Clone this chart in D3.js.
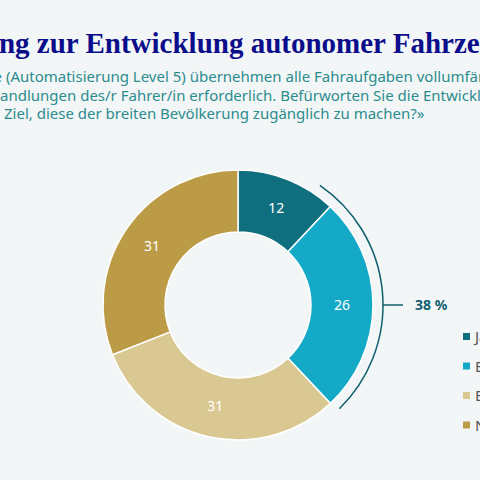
<!DOCTYPE html>
<html><head><meta charset="utf-8">
<script src="https://cdn.jsdelivr.net/npm/d3@7"></script>
<style>body{margin:0;background:#f3f6f7}svg{display:block}</style>
</head><body><svg id="c" width="480" height="480"></svg>
<script>
const categories = ["Ja", "Eher ja", "Eher nein", "Nein"];
const values = [12, 26, 31, 31];
const colors = ["#0f6f7f", "#14aac7", "#d9c892", "#bc9b47"];
const bracketLabel = "38 %";
const titleText = "Einstellung zur Entwicklung autonomer Fahrzeuge";
const subtitleLines = [
  ["«Autonome Fahrzeuge (Automatisierung Level 5) übernehmen alle Fahraufgaben vollumfänglich.", 19],
  ["Keine Handlungen des/r Fahrer/in erforderlich. Befürworten Sie die Entwicklung", 7],
  ["mit dem Ziel, diese der breiten Bevölkerung zugänglich zu machen?»", 8]
];
const svg = d3.select("#c");
svg.append("rect").attr("width",480).attr("height",480).attr("fill","#f3f6f7");
function placed(txt, start, x0, y, attrs){
  const t = svg.append("text").attr("y",y).text(txt);
  for (const k in attrs) t.attr(k, attrs[k]);
  const off = start>0 ? t.node().getSubStringLength(0,start) : 0;
  t.attr("x", x0-off);
}
placed(titleText, 9, -1, 53, {"font-family":"'Liberation Serif',serif","font-weight":"bold","font-size":"29px","fill":"#0b0d8a"});
const ys=[82,101,119], xs=[2,0,4];
subtitleLines.forEach((l,i)=>placed(l[0], l[1], xs[i], ys[i], {"font-family":"'Noto Sans',sans-serif","font-size":"15px","fill":"#2b8c8e"}));

const cx=238, cy=305, R=135, r=73;
const g = svg.append("g").attr("transform",`translate(${cx},${cy})`);
const pie = d3.pie().sort(null).value(d=>d)(values);
const arc = d3.arc().innerRadius(r).outerRadius(R);
g.selectAll("path.s").data(pie).join("path").attr("class","s").attr("d",arc)
  .attr("fill",(d,i)=>colors[i]).attr("stroke","#ffffff").attr("stroke-width",1.5);
const lab = d3.arc().innerRadius((r+R)/2).outerRadius((r+R)/2);
g.selectAll("text.v").data(pie).join("text").attr("class","v")
  .attr("transform",d=>`translate(${lab.centroid(d)})`).attr("text-anchor","middle").attr("dy","0.35em")
  .attr("font-family","'Noto Sans',sans-serif").attr("font-size","14px").attr("fill","#fff").text(d=>d.data);
const end = pie[1].endAngle;
const br = d3.arc().innerRadius(145).outerRadius(145).startAngle(0.6).endAngle(end-0.02);
g.append("path").attr("d",br()).attr("fill","none").attr("stroke","#0f5f6f").attr("stroke-width",1.5);
g.append("line").attr("x1",145).attr("x2",165).attr("y1",0).attr("y2",0).attr("stroke","#0f5f6f").attr("stroke-width",1.5);
g.append("text").attr("x",177).attr("y",0).attr("dy","0.35em").attr("font-family","'Noto Sans',sans-serif")
  .attr("font-weight","bold").attr("font-size","14px").attr("fill","#0f5f6f").text(bracketLabel);
const lg = svg.append("g").selectAll("g").data(categories).join("g").attr("transform",(d,i)=>`translate(463,${337+i*29.5})`);
lg.append("rect").attr("x",0).attr("y",-4).attr("width",7).attr("height",7).attr("fill",(d,i)=>colors[i]);
lg.append("text").attr("x",12).attr("dy","0.35em").attr("font-family","'Noto Sans',sans-serif").attr("font-size","15px").attr("fill","#555").text(d=>d);
</script></body></html>
